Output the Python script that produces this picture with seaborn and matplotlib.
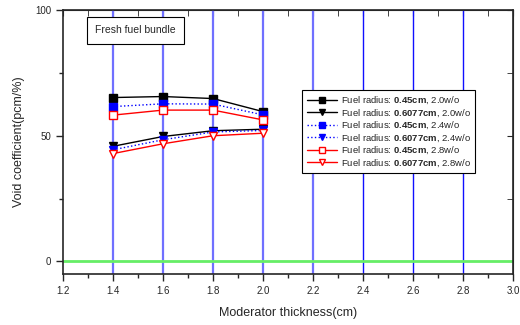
import matplotlib
matplotlib.use("Agg")
import matplotlib.pyplot as plt
import seaborn as sns
import pandas as pd
from matplotlib.ticker import MultipleLocator

# === data ===
thickness = [1.4, 1.6, 1.8, 2.0]
r045_w20 = [65.2, 65.6, 64.8, 59.6]
r6077_w20 = [45.8, 49.7, 52.0, 52.6]
r045_w24 = [61.6, 62.7, 62.6, 58.3]
r6077_w24 = [44.4, 48.4, 51.5, 52.1]
r045_w28 = [58.2, 60.2, 60.2, 56.3]
r6077_w28 = [42.9, 46.8, 50.0, 51.0]
grid_x = [1.4, 1.6, 1.8, 2.0, 2.2, 2.4, 2.6, 2.8]

sns.set_style("ticks")
plt.rcParams["font.family"] = ["Liberation Sans", "DejaVu Sans"]
plt.rcParams["mathtext.fontset"] = "custom"
plt.rcParams["mathtext.rm"] = "Liberation Sans"
plt.rcParams["mathtext.bf"] = "Liberation Sans:bold"

fig = plt.figure(figsize=(5.2, 3.25), dpi=100)
ax = fig.add_axes([0.121, 0.157, 0.866, 0.812])

# vertical reference lines + zero line
for x in grid_x:
    if x < 2.3:
        ax.axvline(x, color="#7070ff", lw=1.6, zorder=1)
    else:
        ax.axvline(x, color="#1010ff", lw=1.0, zorder=1)
ax.axhline(0, color="#66ee66", lw=2, zorder=1)

series = [
    (r045_w20, "0.45cm", "2.0", "black", "-", "s", "black"),
    (r6077_w20, "0.6077cm", "2.0", "black", "-", "v", "black"),
    (r045_w24, "0.45cm", "2.4", "blue", ":", "s", "blue"),
    (r6077_w24, "0.6077cm", "2.4", "blue", ":", "v", "blue"),
    (r045_w28, "0.45cm", "2.8", "red", "-", "s", "white"),
    (r6077_w28, "0.6077cm", "2.8", "red", "-", "v", "white"),
]
for vals, rad, wo, col, ls, mk, fc in series:
    df = pd.DataFrame({"x": thickness, "y": vals})
    label = "Fuel radius: $\\mathbf{" + rad + "}$, " + wo + "w/o"
    sns.lineplot(data=df, x="x", y="y", ax=ax, color=col, linestyle=ls, lw=1,
                 marker=mk, markersize=5.5, markerfacecolor=fc, markeredgecolor=col,
                 markeredgewidth=1, label=label, zorder=3)

ax.set_xlim(1.2, 3.0)
ax.set_ylim(-5, 100)
ax.xaxis.set_minor_locator(MultipleLocator(0.1))
ax.yaxis.set_major_locator(MultipleLocator(50))
ax.yaxis.set_minor_locator(MultipleLocator(25))
ax.set_xticks([1.2, 1.4, 1.6, 1.8, 2.0, 2.2, 2.4, 2.6, 2.8, 3.0])
ax.set_xticklabels(["1.2", "1.4", "1.6", "1.8", "2.0", "2.2", "2.4", "2.6", "2.8", "3.0"])
ax.tick_params(axis="both", which="major", labelsize=7, length=5, width=1, direction="out")
ax.tick_params(axis="both", which="minor", length=3, width=1, direction="out")
for s in ax.spines.values():
    s.set_linewidth(1.2)

# inward ticks on top and right
top = ax.secondary_xaxis("top")
top.set_xticks([1.2, 1.4, 1.6, 1.8, 2.0, 2.2, 2.4, 2.6, 2.8, 3.0])
top.xaxis.set_minor_locator(MultipleLocator(0.1))
top.tick_params(which="both", direction="in", labeltop=False, length=4)
right = ax.secondary_yaxis("right")
right.set_yticks([0, 50, 100])
right.yaxis.set_minor_locator(MultipleLocator(25))
right.tick_params(which="both", direction="in", labelright=False, length=4)

ax.set_xlabel("Moderator thickness(cm)", fontsize=9, labelpad=8)
ax.set_ylabel("Void coefficient(pcm/%)", fontsize=9, labelpad=22)
ax.yaxis.set_label_coords(-0.085, 0.5)

ax.text(1.33, 92, "Fresh fuel bundle", fontsize=7.5, va="center", ha="left", zorder=5,
        bbox=dict(boxstyle="square,pad=0.8", fc="white", ec="black", lw=0.8))

leg = ax.legend(loc="upper left", bbox_to_anchor=(0.52, 0.715), fontsize=6.8,
                frameon=True, fancybox=False, edgecolor="black", framealpha=1,
                handlelength=3.2, labelspacing=0.12, borderpad=0.5, handletextpad=0.4,
                markerscale=0.9)
leg.get_frame().set_linewidth(0.8)

fig.savefig("out.png", dpi=100)
